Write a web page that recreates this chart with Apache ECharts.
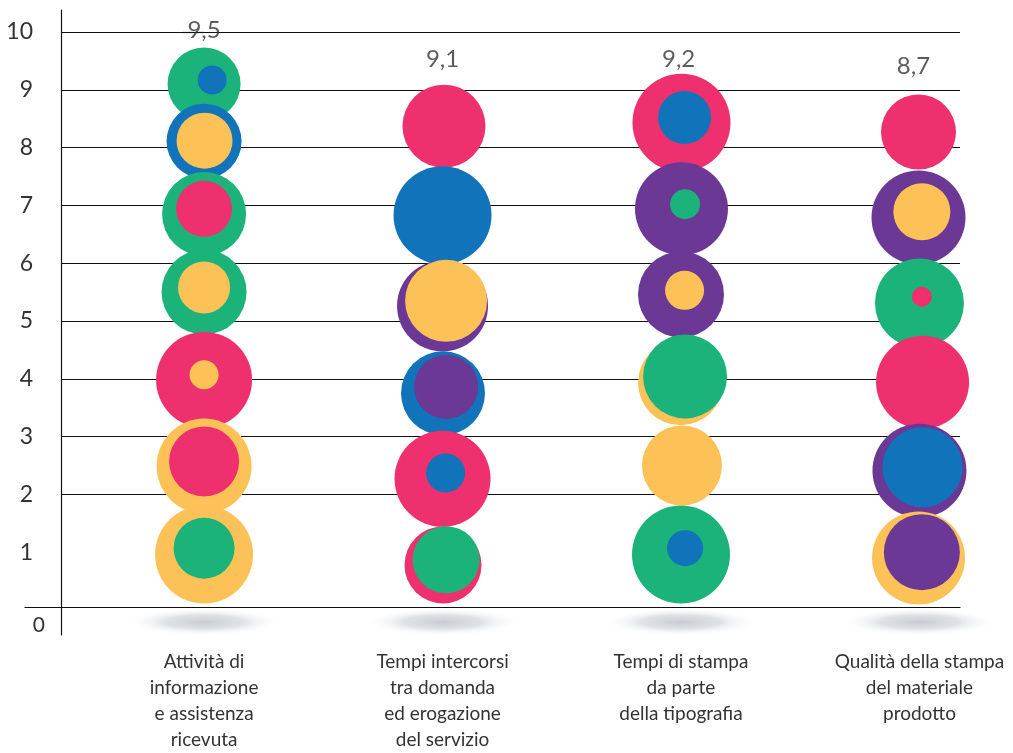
<!DOCTYPE html>
<html>
<head>
<meta charset="utf-8">
<script src="https://cdn.jsdelivr.net/npm/echarts@6/dist/echarts.min.js"></script>
<style>
  html, body { margin: 0; padding: 0; background: #fff; }
  #chart { width: 1013px; height: 753px; }
</style>
</head>
<body>
<div id="chart"></div>
<script>
const categories = [
  "Attività di\ninformazione\ne assistenza\nricevuta",
  "Tempi intercorsi\ntra domanda\ned erogazione\ndel servizio",
  "Tempi di stampa\nda parte\ndella tipografia",
  "Qualità della stampa\ndel materiale\nprodotto"
];
const yTicks = [1, 2, 3, 4, 5, 6, 7, 8, 9, 10];
const scores = [9.5, 9.1, 9.2, 8.7];
const scoreX = [0, 1, 1.99, 2.975];
const scoreY = [10.03, 9.53, 9.52, 9.41];

const colors = {
  green: "#1bb379",
  blue: "#1173b9",
  yellow: "#fdc257",
  pink: "#ee316e",
  purple: "#6c3896"
};

// each bubble: [x, y, diameter, colour] — outer circle first, then its inner circle
const col1 = [
  [0, 9.10, 73, "green"], [0.034, 9.17, 29, "blue"],
  [0, 8.11, 75, "blue"], [0.002, 8.12, 56, "yellow"],
  [0, 6.85, 84, "green"], [0, 6.94, 56, "pink"],
  [0, 5.50, 85, "green"], [0, 5.58, 52, "yellow"],
  [0, 3.98, 96, "pink"], [0, 4.07, 29, "yellow"],
  [0, 2.49, 95, "yellow"], [0, 2.57, 70, "pink"],
  [0, 0.96, 98, "yellow"], [0, 1.07, 61, "green"]
];
const col2 = [
  [1.006, 8.37, 83, "pink"],
  [1.0, 6.83, 98, "blue"],
  [1.0, 5.26, 91, "purple"], [1.015, 5.35, 82, "yellow"],
  [1.002, 3.75, 84, "blue"], [1.015, 3.86, 64, "purple"],
  [1.0, 2.27, 96, "pink"], [1.013, 2.37, 39, "blue"],
  [1.002, 0.78, 77, "pink"], [1.015, 0.87, 67, "green"]
];
const col3 = [
  [2.002, 8.43, 98, "pink"], [2.015, 8.52, 53, "blue"],
  [2.002, 6.94, 93, "purple"], [2.017, 7.02, 30, "green"],
  [2.0, 5.46, 86, "purple"], [2.015, 5.53, 39, "yellow"],
  [1.998, 3.93, 85, "yellow"], [2.017, 4.04, 84, "green"],
  [2.004, 2.50, 80, "yellow"],
  [2.0, 0.96, 98, "green"], [2.017, 1.07, 36, "blue"]
];
const col4 = [
  [2.996, 8.27, 75, "pink"],
  [2.996, 6.79, 94, "purple"], [3.01, 6.89, 57, "yellow"],
  [3.0, 5.31, 89, "green"], [3.01, 5.42, 20, "pink"],
  [3.013, 3.94, 93, "pink"],
  [3.0, 2.41, 94, "purple"], [3.013, 2.47, 80, "blue"],
  [2.996, 0.90, 93, "yellow"], [3.01, 1.00, 76, "purple"]
];

const textColor = "#333";
const lineColor = "#111";

const chart = echarts.init(document.getElementById("chart"));

const bubbles = [].concat(col1, col2, col3, col4).map(b => ({
  value: [b[0], b[1], b[2]],
  itemStyle: { color: colors[b[3]], opacity: 1 }
}));

const shadowColor = new echarts.graphic.RadialGradient(0.5, 0.5, 0.5, [
  { offset: 0, color: "rgba(200,203,209,1)" },
  { offset: 0.5, color: "rgba(215,218,223,0.8)" },
  { offset: 1, color: "rgba(255,255,255,0)" }
]);

const option = {
  animation: false,
  backgroundColor: "#fff",
  textStyle: { fontFamily: "Lato" },
  grid: [
    { left: 61, right: 53, top: 32, bottom: 140 },
    { left: 25, right: 53, top: 606, height: 1 },
    { left: 61, top: 10, bottom: 118, width: 1 }
  ],
  xAxis: [
    {
      gridIndex: 0,
      type: "value",
      min: -0.6,
      max: 3.17,
      axisLine: { show: false },
      axisTick: { show: false },
      splitLine: { show: false },
      axisLabel: {
        customValues: [0, 1, 2, 3],
        formatter: v => categories[Math.round(v)],
        color: textColor,
        fontSize: 19,
        lineHeight: 26,
        margin: 39
      }
    },
    {
      gridIndex: 1,
      type: "value",
      axisLine: { show: true, lineStyle: { color: lineColor, width: 1.2 } },
      axisTick: { show: false },
      axisLabel: { show: false },
      splitLine: { show: false }
    },
    { gridIndex: 2, type: "value", show: false }
  ],
  yAxis: [
    {
      gridIndex: 0,
      type: "value",
      min: 0,
      max: 10,
      axisLine: { show: false },
      axisTick: {
        show: true,
        customValues: yTicks,
        length: 21,
        lineStyle: { color: lineColor, width: 1.2 }
      },
      axisLabel: {
        customValues: yTicks,
        color: textColor,
        fontSize: 23,
        margin: 28
      },
      splitLine: {
        show: true,
        showMinLine: false,
        lineStyle: { color: lineColor, width: 1.2 }
      }
    },
    {
      gridIndex: 0,
      type: "value",
      position: "left",
      min: 0,
      max: 10,
      axisLine: { show: false },
      axisTick: { show: false },
      splitLine: { show: false },
      axisLabel: {
        customValues: [0],
        color: textColor,
        fontSize: 21,
        lineHeight: 30,
        margin: 16,
        verticalAlign: "top"
      }
    },
    {
      gridIndex: 1,
      type: "value",
      show: false
    },
    {
      gridIndex: 2,
      type: "value",
      axisLine: { show: true, lineStyle: { color: lineColor, width: 1.2 } },
      axisTick: { show: false },
      axisLabel: { show: false },
      splitLine: { show: false }
    }
  ],
  series: [
    {
      type: "scatter",
      silent: true,
      clip: false,
      z: 1,
      symbol: "circle",
      symbolSize: [156, 28],
      itemStyle: { color: shadowColor, opacity: 1 },
      data: categories.map((c, i) => [i, -0.207])
    },
    {
      type: "scatter",
      silent: true,
      clip: false,
      z: 2,
      symbol: "circle",
      symbolSize: v => v[2],
      itemStyle: { opacity: 1 },
      data: bubbles
    },
    {
      type: "scatter",
      silent: true,
      clip: false,
      z: 3,
      symbol: "circle",
      symbolSize: 1,
      itemStyle: { color: "rgba(0,0,0,0)" },
      label: {
        show: true,
        position: "inside",
        color: textColor,
        fontSize: 24,
        formatter: p => String(p.value[2]).replace(".", ",")
      },
      data: scores.map((s, i) => [scoreX[i], scoreY[i], s])
    }
  ]
};

chart.setOption(option);
</script>
</body>
</html>
